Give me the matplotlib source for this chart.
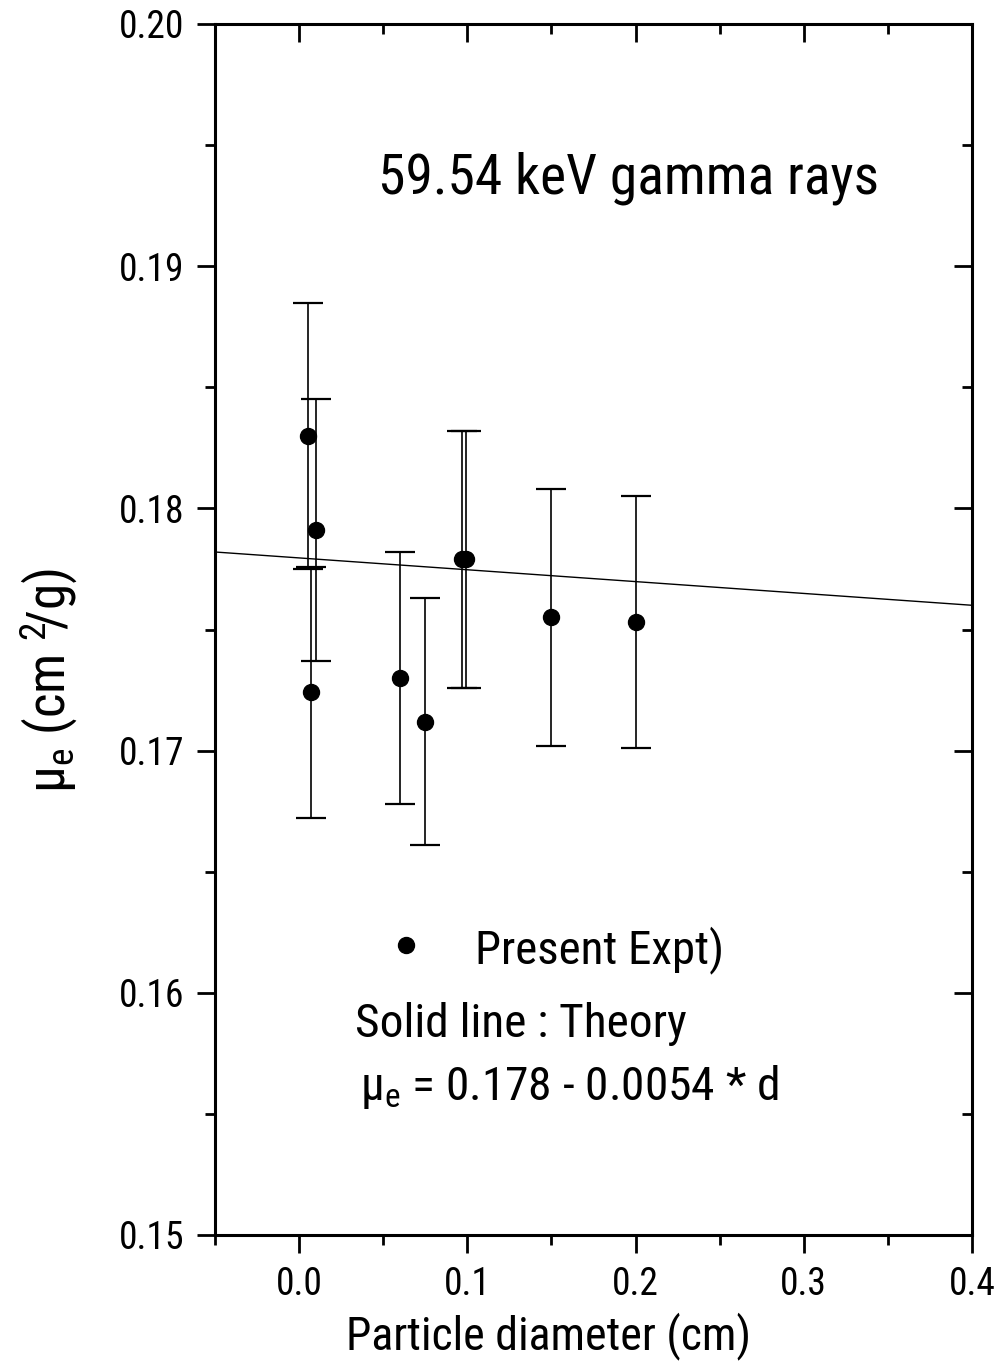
import matplotlib
matplotlib.use("Agg")
import matplotlib.pyplot as plt
from matplotlib import font_manager
from matplotlib.font_manager import FontProperties
from matplotlib.ticker import MultipleLocator

# Data
diameter = [0.005, 0.010, 0.007, 0.060, 0.075, 0.097, 0.099, 0.150, 0.200]
mu_e = [0.1830, 0.1791, 0.1724, 0.1730, 0.1712, 0.1779, 0.1779, 0.1755, 0.1753]
mu_err = [0.0055, 0.0054, 0.0052, 0.0052, 0.0051, 0.0053, 0.0053, 0.0053, 0.0052]

# Theory line (mu_e = 0.178 - 0.0054 * d) endpoints across the axis
theory_x = [-0.05, 0.40]
theory_y = [0.1782, 0.1760]

xticks = [0.0, 0.1, 0.2, 0.3, 0.4]
yticks = [0.15, 0.16, 0.17, 0.18, 0.19, 0.20]

# Look for a narrow sans font, otherwise fall back to Liberation Sans
narrow = None
prefs = ["liberationsansnarrow-regular", "arialn", "robotocondensed-regular",
         "dejavusanscondensed.ttf", "notosans-condensed", "opensans_condensed"]
files = [f.fname for f in font_manager.fontManager.ttflist]
for p in prefs:
    for fn in files:
        if p in fn.lower().replace(" ", "").replace("_", "").replace("-", "") or p in fn.lower():
            narrow = fn
            break
    if narrow:
        break

if narrow:
    def FP(size):
        return FontProperties(fname=narrow, size=size * 1.2)
else:
    def FP(size):
        return FontProperties(family="Liberation Sans", size=size)

plt.rcParams["font.family"] = ["Liberation Sans", "DejaVu Sans"]
plt.rcParams["mathtext.default"] = "regular"

fig = plt.figure(figsize=(10.03, 13.68), dpi=100)
ax = fig.add_axes([215 / 1003, 1 - 1235 / 1368, 757 / 1003, 1211 / 1368])

ax.plot(theory_x, theory_y, color="black", lw=1.0)
ax.errorbar(diameter, mu_e, yerr=mu_err, fmt="o", color="black", ms=11.5,
            ecolor="black", elinewidth=1.2, capsize=11, capthick=1.6)

ax.set_xlim(-0.05, 0.4)
ax.set_ylim(0.15, 0.20)
ax.set_xticks(xticks)
ax.set_yticks(yticks)
ax.set_xticklabels([f"{v:.1f}" for v in xticks])
ax.set_yticklabels([f"{v:.2f}" for v in yticks])
for lab in ax.get_xticklabels() + ax.get_yticklabels():
    lab.set_fontproperties(FP(22.5))
ax.xaxis.set_minor_locator(MultipleLocator(0.05))
ax.yaxis.set_minor_locator(MultipleLocator(0.005))

for s in ax.spines.values():
    s.set_linewidth(2.2)

ax.tick_params(which="both", direction="out", width=2)
ax.tick_params(which="major", length=13)
ax.tick_params(which="minor", length=7)
ax.tick_params(axis="y", pad=9)
ax.tick_params(axis="x", pad=9)

# top / right ticks point inward
sec_x = ax.secondary_xaxis("top")
sec_x.set_xticks(xticks)
sec_x.xaxis.set_minor_locator(MultipleLocator(0.05))
sec_x.tick_params(which="both", direction="in", width=2, labeltop=False)
sec_x.tick_params(which="major", length=13)
sec_x.tick_params(which="minor", length=7)
sec_y = ax.secondary_yaxis("right")
sec_y.set_yticks(yticks)
sec_y.yaxis.set_minor_locator(MultipleLocator(0.005))
sec_y.tick_params(which="both", direction="in", width=2, labelright=False)
sec_y.tick_params(which="major", length=13)
sec_y.tick_params(which="minor", length=7)

ax.set_xlabel("Particle diameter (cm)", fontproperties=FP(27.5))
ax.xaxis.set_label_coords(0.441, -0.064)
ax.set_ylabel("$μ_e$ (cm $^2\\!$/g)", fontproperties=FP(32))
ax.yaxis.set_label_coords(-0.178, 0.458)

ax.text(0.215, 0.860, "59.54 keV gamma rays", transform=ax.transAxes,
        fontproperties=FP(33.3), ha="left", va="baseline")
ax.plot([0.252], [0.2395], "o", color="black", ms=11.5, transform=ax.transAxes)
ax.text(0.343, 0.2246, "Present Expt)", transform=ax.transAxes,
        fontproperties=FP(28.2), ha="left", va="baseline")
ax.text(0.185, 0.1635, "Solid line : Theory", transform=ax.transAxes,
        fontproperties=FP(28.4), ha="left", va="baseline")
ax.text(0.1915, 0.1115, "$μ_e$ = 0.178 - 0.0054 * d", transform=ax.transAxes,
        fontproperties=FP(28.4), ha="left", va="baseline")

fig.savefig("out.png", dpi=100)
